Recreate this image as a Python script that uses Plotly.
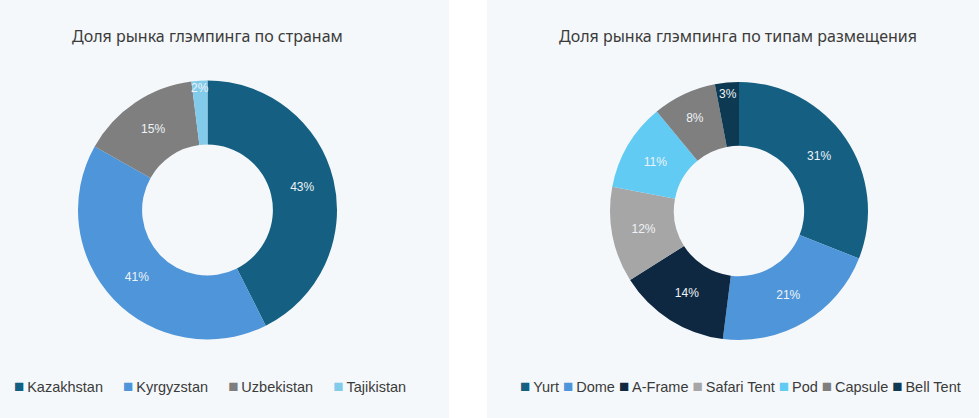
import plotly.graph_objects as go

# ---- data ----
countries = ["Kazakhstan", "Kyrgyzstan", "Uzbekistan", "Tajikistan"]
country_share = [43, 41, 15, 2]
country_colors = ["#156082", "#4e95d9", "#7f7f7f", "#83cbeb"]

types = ["Yurt", "Dome", "A-Frame", "Safari Tent", "Pod", "Capsule", "Bell Tent"]
type_share = [31, 21, 14, 12, 11, 8, 3]
type_colors = ["#156082", "#4e95d9", "#0e2841", "#a6a6a6", "#61cbf3", "#7f7f7f", "#0d3a52"]

title_left = "Доля рынка глэмпинга по странам"
title_right = "Доля рынка глэмпинга по типам размещения"

W, H = 979, 418
BG = "#f5f8fa"
TXT = "#3b3b3b"
LBL = "#eef3f7"


def px(x):
    return x / W


def py(y):
    return 1 - y / H


fig = go.Figure()

common = dict(
    hole=0.505, sort=False, direction="clockwise", rotation=0,
    textinfo="text", textposition="inside", insidetextorientation="horizontal",
    textfont=dict(color=LBL, size=12, family="Liberation Sans"),
    marker_line_width=0, showlegend=False, hoverinfo="label+text",
)

fig.add_trace(go.Pie(
    labels=countries, values=country_share,
    text=[f"{v}%" for v in country_share],
    marker=dict(colors=country_colors),
    domain=dict(x=[px(78), px(337)], y=[py(339.5), py(80.5)]),
    **common,
))
fig.add_trace(go.Pie(
    labels=types, values=type_share,
    text=[f"{v}%" for v in type_share],
    marker=dict(colors=type_colors),
    domain=dict(x=[px(610), px(868)], y=[py(340), py(82)]),
    **common,
))


def legend_text(names, colors, gap):
    parts = []
    for n, c in zip(names, colors):
        parts.append(f"<span style='color:{c};font-size:17px'>■</span>\u2009{n}")
    return (gap).join(parts)


shapes = [
    dict(type="rect", xref="paper", yref="paper", x0=0, x1=px(449), y0=0, y1=1,
         fillcolor=BG, line_width=0, layer="below"),
    dict(type="rect", xref="paper", yref="paper", x0=px(487), x1=1, y0=0, y1=1,
         fillcolor=BG, line_width=0, layer="below"),
]

annotations = [
    dict(text=title_left, x=px(207), y=py(36), xref="paper", yref="paper",
         showarrow=False, font=dict(size=16, color=TXT, family="Noto Sans"),
         xanchor="center", yanchor="middle"),
    dict(text=title_right, x=px(738), y=py(36), xref="paper", yref="paper",
         showarrow=False, font=dict(size=16, color=TXT, family="Noto Sans"),
         xanchor="center", yanchor="middle"),
    dict(text=legend_text(countries, country_colors, "\u00a0" * 5), x=px(210), y=py(386),
         xref="paper", yref="paper", showarrow=False,
         font=dict(size=14.5, color=TXT, family="Liberation Sans"),
         xanchor="center", yanchor="middle"),
    dict(text=legend_text(types, type_colors, "\u00a0"), x=px(740), y=py(386),
         xref="paper", yref="paper", showarrow=False,
         font=dict(size=14.5, color=TXT, family="Liberation Sans"),
         xanchor="center", yanchor="middle"),
]

fig.update_layout(
    width=W, height=H, margin=dict(l=0, r=0, t=0, b=0),
    paper_bgcolor="white", plot_bgcolor="white",
    shapes=shapes, annotations=annotations,
    uniformtext=dict(minsize=12, mode="show"),
)

fig.write_html("out.html")
